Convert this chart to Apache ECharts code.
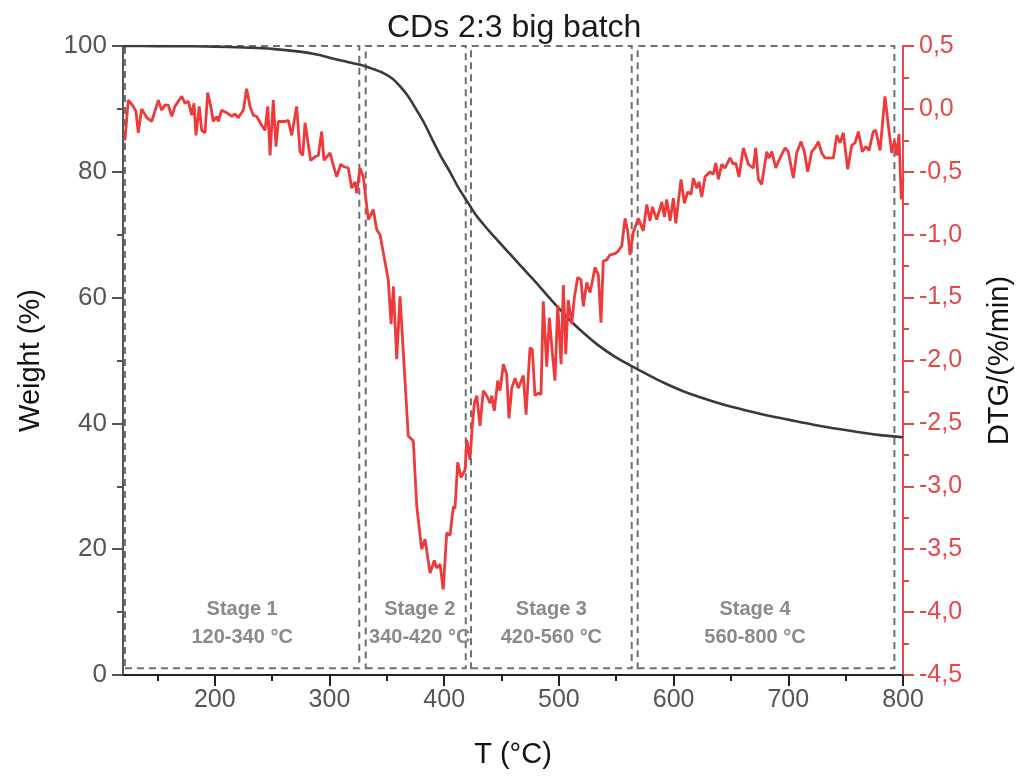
<!DOCTYPE html>
<html><head><meta charset="utf-8">
<script src="https://cdn.jsdelivr.net/npm/echarts@6/dist/echarts.min.js"></script>
<style>html,body{margin:0;padding:0;background:#fff}#c{width:1016px;height:778px}</style>
</head><body><div id="c"></div>
<script>
// TG curve (weight %)
const tgT = [120,150,180,200,225,250,274,290,303,315,327,337,347,355,362,369,376,383,390,397,405,412,420,427,434,441,448,455,462,469,476,483,490,498,506,513,522,533,548,563.5,577,591,610,634.6,656,678,700,722,744,765,782,800];
const tgW = [100,99.98,99.95,99.9,99.75,99.55,99.1,98.6,98.0,97.5,97.0,96.4,95.7,94.8,93.5,91.9,89.8,87.6,85.0,82.5,80.0,77.6,75.3,73.3,71.7,70.2,68.8,67.4,66.0,64.6,63.2,61.8,60.3,58.7,57.1,55.8,54.3,52.6,50.7,49.1,47.8,46.5,45.0,43.5,42.4,41.4,40.6,39.8,39.1,38.5,38.1,37.8];

// DTG curve (%/min)
const dtgT = [121.7,124.6,126,129,131.3,133.3,136.3,140.7,145,146.4,150.8,153.7,156.6,159.5,162.5,165.3,171.2,174,177,179.9,181.9,183.6,186.5,188.6,191.5,193.8,196.5,198.7,201.7,203.1,206,210.4,214.8,217.6,220.5,224.9,227.8,230.7,233.6,236.6,240.9,243.8,246.2,248.2,251,253.4,255.4,261.2,264.1,267.1,271.4,274.3,276.7,278.7,283.6,287.4,290.3,293.2,295.2,300.5,302.8,306.3,309.8,312.7,316.4,319.4,322.3,323.7,326.6,329.5,333.9,338.2,341.2,344.1,351.3,353.7,355.7,358.6,361.5,368.7,373.1,376.1,380.4,383.3,387.7,391.4,393.5,396.4,399.2,402.2,405.1,408,409.4,411.8,414.7,418.2,419.7,422.5,424.5,426.3,428.4,431.2,434.1,437.1,440,441.5,443.7,446.7,448.7,451.6,454.5,456.5,458.9,461.8,464.6,469,471.4,474.8,476.8,479.2,482.1,484.4,486.4,489.4,491.7,494.3,496.6,499,501.9,503.9,506,508.2,511.2,513.5,516.4,519.3,521.3,524.3,527.2,531.5,534.4,536.7,538.7,541.7,544.6,548.9,551.8,554.8,557.7,560,562,564.9,569.3,573.6,576.6,579.5,581.5,585.3,589.7,592,594,596.9,599.8,601.9,606.5,609.4,612.3,615.2,617.2,620.2,622.2,624.5,627.4,631.8,634.6,636.8,639,642,644.8,649.2,652.1,654.2,657,660.8,665.2,669.5,671.6,673.9,676.8,681.2,683.2,685.6,689.1,692.8,697.2,700,704.4,707.3,711.1,714,716.9,720.4,723.3,726.2,729.1,732,736.4,739.3,742.3,745.1,748,751.8,755.3,758.2,761.1,764.6,767.6,770.4,774.1,776.2,780,784.3,787.3,790.2,792.5,794.6,796.5,798.5,800];
const dtgV = [-0.25,0.07,0.085,0.02,-0.02,-0.19,0.0,-0.07,-0.10,-0.11,0.07,-0.01,0.03,0.03,-0.06,0.02,0.10,0.045,0.06,-0.05,0.045,-0.21,0.02,-0.17,-0.19,0.13,0.02,-0.10,-0.06,-0.10,-0.01,-0.03,-0.06,-0.04,-0.07,-0.01,0.16,0.02,-0.05,-0.06,-0.13,-0.17,0.02,-0.37,0.07,-0.30,-0.10,-0.10,-0.09,-0.21,0.02,-0.34,-0.37,-0.11,-0.41,-0.38,-0.37,-0.18,-0.41,-0.35,-0.43,-0.54,-0.44,-0.46,-0.47,-0.63,-0.58,-0.67,-0.47,-0.54,-0.88,-0.80,-0.96,-1.00,-1.36,-1.71,-1.41,-1.99,-1.49,-2.60,-2.64,-3.16,-3.50,-3.42,-3.69,-3.59,-3.65,-3.62,-3.82,-3.37,-3.39,-3.16,-3.18,-2.81,-2.93,-2.87,-2.63,-2.79,-2.52,-2.34,-2.28,-2.52,-2.24,-2.28,-2.34,-2.28,-2.40,-2.16,-2.24,-2.03,-2.11,-2.46,-2.22,-2.14,-2.22,-2.12,-2.43,-1.90,-1.91,-2.28,-2.26,-2.27,-1.53,-2.05,-1.66,-1.94,-2.16,-1.56,-2.03,-1.40,-1.95,-1.52,-1.71,-1.50,-1.34,-1.36,-1.57,-1.38,-1.46,-1.26,-1.32,-1.70,-1.21,-1.20,-1.16,-1.15,-1.13,-1.09,-0.87,-0.97,-1.16,-0.98,-0.87,-0.97,-0.76,-0.89,-0.78,-0.88,-0.74,-0.86,-0.72,-0.89,-0.71,-0.91,-0.56,-0.75,-0.66,-0.68,-0.55,-0.63,-0.58,-0.70,-0.54,-0.50,-0.52,-0.43,-0.56,-0.44,-0.47,-0.39,-0.44,-0.43,-0.54,-0.31,-0.44,-0.47,-0.31,-0.56,-0.60,-0.34,-0.39,-0.34,-0.47,-0.39,-0.31,-0.34,-0.55,-0.35,-0.26,-0.34,-0.50,-0.34,-0.31,-0.26,-0.35,-0.39,-0.39,-0.39,-0.21,-0.27,-0.19,-0.48,-0.29,-0.27,-0.18,-0.34,-0.30,-0.33,-0.18,-0.17,-0.33,0.10,-0.14,-0.35,-0.25,-0.37,-0.20,-0.72,-0.55];

// Axis ticks
const xMajorTicks = [200,300,400,500,600,700,800];
const xMinorTicks = [150,250,350,450,550,650,750];

// Stages
const stageNames = ['Stage 1','Stage 2','Stage 3','Stage 4'];
const stageRanges = ['120-340 °C','340-420 °C','420-560 °C','560-800 °C'];
const stageStart = [121.7,331.6,423.4,568.7];
const stageEnd = [326,418.8,563.5,792.5];
const stageBottom = 1.06, stageTop = 100;

const FONT = "'Liberation Sans', Arial, Helvetica, sans-serif";
const RED = '#ee3a3a';
const AXRED = '#e8474a';

const labelOffsets = [[0,0],[4,0],[0,0],[-11,0]];
const markData = stageNames.map((n,i)=>[
  {name: n + '\n' + stageRanges[i], xAxis: stageStart[i], yAxis: stageBottom,
   label:{offset: labelOffsets[i]}},
  {xAxis: stageEnd[i], yAxis: stageTop}
]);

const chart = echarts.init(document.getElementById('c'), null, {renderer:'canvas'});
chart.setOption({
  animation:false,
  backgroundColor:'#fff',
  textStyle:{fontFamily:FONT},
  title:{text:'CDs 2:3 big batch', left:382, top:7,
    textStyle:{fontFamily:FONT, fontSize:32, fontWeight:'normal', color:'#1a1a1a'}},
  grid:{left:123, right:113, top:46, bottom:103, containLabel:false, outerBoundsMode:'none'},
  xAxis:[{
    type:'value', min:120, max:800, position:'bottom',
    name:'T (°C)', nameLocation:'middle', nameGap:65,
    nameTextStyle:{fontFamily:FONT, fontSize:29, color:'#111'},
    axisLine:{show:true, lineStyle:{color:'#222', width:2}},
    axisTick:{show:true, length:11, lineStyle:{color:'#222', width:2}, customValues:xMajorTicks},
    axisLabel:{fontFamily:FONT, fontSize:25, color:'#555', margin:13, customValues:xMajorTicks},
    splitLine:{show:false}
  },{
    type:'value', min:120, max:800, position:'top', offset:-629,
    axisLine:{show:false},
    axisTick:{show:true, inside:true, length:6, lineStyle:{color:'#222', width:2}, customValues:xMinorTicks},
    axisLabel:{show:false},
    splitLine:{show:false}
  }],
  yAxis:[{
    type:'value', min:0, max:100, interval:20, position:'left',
    name:'Weight (%)', nameLocation:'middle', nameGap:78, nameRotate:90,
    nameTextStyle:{fontFamily:FONT, fontSize:29, color:'#111'},
    axisLine:{show:true, lineStyle:{color:'#555', width:2}},
    axisTick:{show:true, length:11, lineStyle:{color:'#555', width:2}},
    minorTick:{show:true, splitNumber:2, length:6, lineStyle:{color:'#555', width:2}},
    axisLabel:{fontFamily:FONT, fontSize:26, color:'#555', margin:16},
    splitLine:{show:false}
  },{
    type:'value', min:-4.5, max:0.5, interval:0.5, position:'right',
    name:'DTG/(%/min)', nameLocation:'middle', nameGap:82, nameRotate:90,
    nameTextStyle:{fontFamily:FONT, fontSize:29, color:'#111'},
    axisLine:{show:true, lineStyle:{color:AXRED, width:2}},
    axisTick:{show:true, length:11, lineStyle:{color:AXRED, width:2}},
    minorTick:{show:true, splitNumber:2, length:6, lineStyle:{color:AXRED, width:2}},
    axisLabel:{fontFamily:FONT, fontSize:25, color:AXRED, margin:16,
      formatter:v=>v.toFixed(1).replace('.',',')},
    splitLine:{show:false}
  }],
  series:[{
    type:'line', name:'TG', xAxisIndex:0, yAxisIndex:0, showSymbol:false, smooth:0.3,
    data: tgT.map((t,i)=>[t,tgW[i]]),
    lineStyle:{color:'#3a3a3a', width:2.6},
    z:3,
    markArea:{silent:true,
      itemStyle:{color:'rgba(0,0,0,0)', borderColor:'#707070', borderWidth:2, borderType:[7,5]},
      label:{show:true, position:'insideBottom', distance:18, fontFamily:FONT, fontSize:20,
        fontWeight:'bold', color:'#8a8a8a', lineHeight:28, align:'center'},
      data: markData
    }
  },{
    type:'line', name:'DTG', xAxisIndex:0, yAxisIndex:1, showSymbol:false,
    data: dtgT.map((t,i)=>[t,dtgV[i]]),
    lineStyle:{color:RED, width:2.8},
    z:4
  }]
});
</script></body></html>
